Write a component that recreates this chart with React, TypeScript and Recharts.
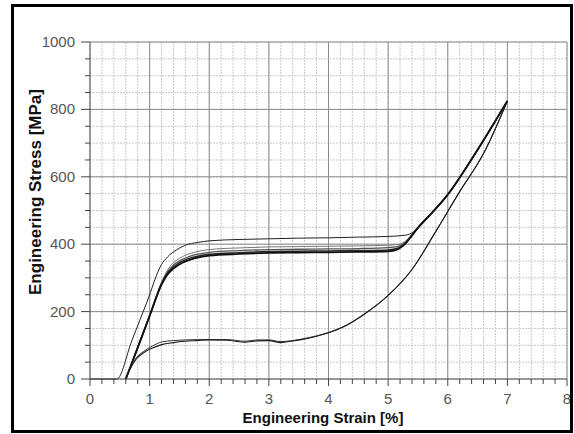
import { LineChart, Line, XAxis, YAxis, CartesianGrid, ReferenceLine, Label } from "recharts";

// first loading cycle (thin, upper plateau)
const firstLoadX = [0, 0.45, 0.7, 0.95, 1.2, 1.3, 1.45, 1.6, 1.8, 2.0, 2.5, 3.0, 3.5, 4.0, 4.5, 5.0, 5.3, 5.42, 5.6, 6.0, 6.5, 7.0];
const firstLoadY = [0, 0, 113, 226, 340, 362, 383, 397, 405, 410, 414, 416, 418, 419, 421, 423, 427, 436, 466, 547, 680, 825];

// following loading cycles (the thick bundle)
const loadX = [0.6, 0.8, 1.0, 1.2, 1.3, 1.4, 1.55, 1.75, 2.0, 2.5, 3.0, 3.5, 4.0, 4.5, 5.0, 5.15, 5.25, 5.5, 6.0, 6.5, 7.0];
const load1 = [0, 93, 187, 280, 310, 328, 345, 358, 366, 371, 374, 375, 376, 377, 379, 384, 395, 448, 547, 680, 825];
const load2 = [0, 93, 187, 282, 314, 333, 350, 362, 370, 375, 378, 379, 380, 381, 383, 387, 397, 449, 547, 680, 825];
const load3 = [0, 93, 188, 284, 318, 338, 355, 368, 376, 381, 384, 385, 386, 387, 390, 393, 400, 450, 547, 680, 825];
const load4 = [0, 94, 190, 288, 323, 345, 363, 376, 384, 389, 392, 393, 394, 395, 397, 399, 404, 452, 548, 680, 825];

// unloading branches (lower plateau)
const unloadX = [0.6, 0.68, 0.78, 0.9, 1.05, 1.2, 1.4, 1.6, 1.8, 2.0, 2.3, 2.6, 2.8, 3.0, 3.2, 3.4, 3.6, 3.8, 4.0, 4.3, 4.6, 5.0, 5.4, 5.8, 6.2, 6.6, 7.0];
const unload1 = [0, 35, 64, 82, 98, 110, 114, 116, 117, 117, 117, 112, 116, 116, 111, 114, 120, 128, 138, 160, 193, 248, 325, 438, 556, 669, 825];
const unload2 = [0, 32, 60, 78, 92, 102, 108, 112, 114, 116, 115, 109, 113, 114, 108, 113, 119, 127, 137, 159, 192, 248, 325, 438, 556, 669, 825];

const xMajor = [1, 2, 3, 4, 5, 6, 7, 8];
const yMajor = [200, 400, 600, 800, 1000];
const xTicks = Array.from({ length: 41 }, (_, i) => Math.round(i * 2) / 10);
const yTicks = Array.from({ length: 21 }, (_, i) => i * 50);

const toPoints = (xs: number[], ys: number[]) => xs.map((x, i) => ({ x, y: ys[i] }));

const series = [
  { name: "cycle1", data: toPoints(firstLoadX, firstLoadY), stroke: "#222", width: 1 },
  { name: "load4", data: toPoints(loadX, load4), stroke: "#777", width: 1 },
  { name: "load3", data: toPoints(loadX, load3), stroke: "#555", width: 1.3 },
  { name: "load2", data: toPoints(loadX, load2), stroke: "#2a2a2a", width: 1.5 },
  { name: "load1", data: toPoints(loadX, load1), stroke: "#111", width: 1.8 },
  { name: "unload1", data: toPoints(unloadX, unload1), stroke: "#333", width: 1 },
  { name: "unload2", data: toPoints(unloadX, unload2), stroke: "#1a1a1a", width: 1.1 },
];

const font = "'Liberation Sans', Arial, sans-serif";

function XTick(props: any) {
  const { x, y, payload } = props;
  const v = payload.value;
  const major = Math.abs(v - Math.round(v)) < 1e-6;
  return (
    <g>
      <line x1={x} x2={x} y1={y} y2={y + (major ? 7 : 5)} stroke="#444" />
      {major && (
        <text x={x} y={y + 25} textAnchor="middle" fill="#555" fontSize={15} fontFamily={font}>
          {v}
        </text>
      )}
    </g>
  );
}

function YTick(props: any) {
  const { x, y, payload } = props;
  const v = payload.value;
  const major = v % 200 === 0;
  return (
    <g>
      <line x1={x - (major ? 9 : 5)} x2={x} y1={y} y2={y} stroke="#444" />
      {major && (
        <text x={x - 15} y={y + 5} textAnchor="end" fill="#555" fontSize={15} fontFamily={font}>
          {v}
        </text>
      )}
    </g>
  );
}

export default function App() {
  return (
    <div style={{ position: "absolute", left: 0, top: 0, width: 574, height: 434, background: "#fff" }}>
      <LineChart width={574} height={434} margin={{ top: 42, right: 7, bottom: 25, left: 0 }}>
        <CartesianGrid stroke="#c8c8c8" strokeDasharray="2 1" />
        {xMajor.map((v) => (
          <ReferenceLine key={"x" + v} x={v} stroke="#8c8c8c" />
        ))}
        {yMajor.map((v) => (
          <ReferenceLine key={"y" + v} y={v} stroke="#8c8c8c" />
        ))}
        <XAxis
          type="number"
          dataKey="x"
          domain={[0, 8]}
          ticks={xTicks}
          interval={0}
          tickSize={0}
          tickMargin={0}
          tickLine={false}
          tick={<XTick />}
          axisLine={{ stroke: "#444" }}
          height={30}
          allowDuplicatedCategory={false}
        >
          <Label
            content={() => (
              <text x={323} y={423} textAnchor="middle" fontSize={15} fontWeight="bold" fill="#111" fontFamily={font}>
                Engineering Strain [%]
              </text>
            )}
          />
        </XAxis>
        <YAxis
          type="number"
          dataKey="y"
          domain={[0, 1000]}
          ticks={yTicks}
          interval={0}
          tickSize={0}
          tickMargin={0}
          tickLine={false}
          tick={<YTick />}
          axisLine={{ stroke: "#444" }}
          width={90}
        >
          <Label
            content={() => (
              <text
                x={41}
                y={192}
                transform="rotate(-90 41 192)"
                textAnchor="middle"
                fontSize={17}
                fontWeight="bold"
                fill="#111"
                fontFamily={font}
              >
                Engineering Stress [MPa]
              </text>
            )}
          />
        </YAxis>
        {series.map((s) => (
          <Line
            key={s.name}
            data={s.data}
            dataKey="y"
            type="monotone"
            stroke={s.stroke}
            strokeWidth={s.width}
            dot={false}
            activeDot={false}
            isAnimationActive={false}
          />
        ))}
      </LineChart>
      <div
        style={{
          position: "absolute",
          left: 11,
          top: 4,
          width: 562,
          height: 429,
          border: "3px solid #000",
          boxSizing: "border-box",
          pointerEvents: "none",
        }}
      />
    </div>
  );
}
